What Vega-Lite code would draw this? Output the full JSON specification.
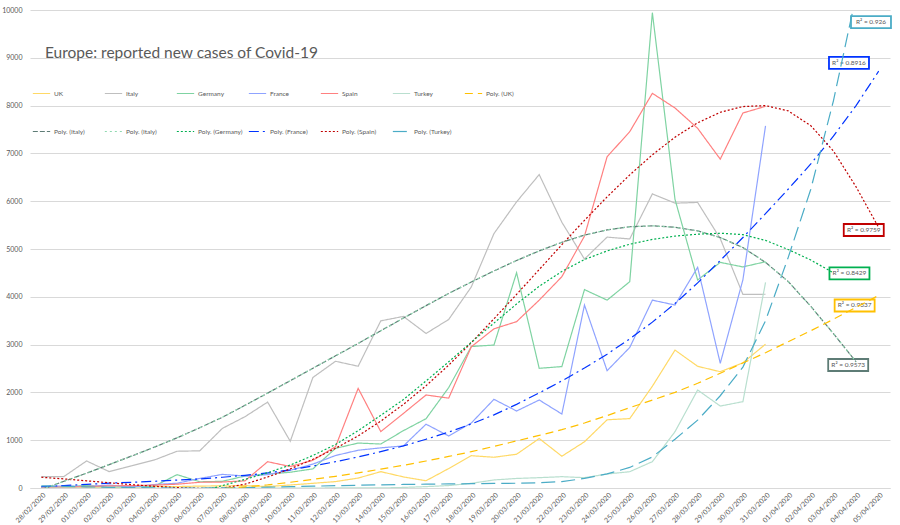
{
 "$schema": "https://vega.github.io/schema/vega-lite/v6.json",
 "width": 860,
 "height": 478,
 "autosize": "none",
 "padding": {"left": 30, "top": 10, "right": 10, "bottom": 37},
 "background": "#ffffff",
 "config": {"font": "Lato", "view": {"stroke": null}},
 "title": {"text": "Europe: reported new cases of Covid-19", "anchor": "start", "frame": "group", "offset": 0, "dx": 15, "dy": 67, "baseline": "alphabetic", "fontSize": 15.5, "fontWeight": "normal", "color": "#595959", "font": "Lato"},
 "data": {"values": [
  {"d":"2020-02-28","UK":2,"Italy":238,"Germany":10,"France":20,"Spain":10,"Turkey":0,"pIt":-30,"pIt2":-30,"pFr":30,"pEs":225,"pTr":45},
  {"d":"2020-02-29","UK":5,"Italy":240,"Germany":20,"France":43,"Spain":20,"Turkey":0,"pIt":140,"pIt2":140,"pFr":50,"pEs":190,"pTr":35},
  {"d":"2020-03-01","UK":12,"Italy":566,"Germany":54,"France":30,"Spain":30,"Turkey":0,"pIt":310,"pIt2":310,"pFr":75,"pEs":150,"pTr":25},
  {"d":"2020-03-02","UK":4,"Italy":342,"Germany":18,"France":61,"Spain":45,"Turkey":0,"pIt":490,"pIt2":490,"pFr":100,"pEs":110,"pTr":15},
  {"d":"2020-03-03","UK":11,"Italy":466,"Germany":28,"France":21,"Spain":50,"Turkey":0,"pIt":670,"pIt2":670,"pFr":120,"pEs":70,"pTr":8},
  {"d":"2020-03-04","UK":34,"Italy":587,"Germany":39,"France":73,"Spain":60,"Turkey":0,"pIt":855,"pIt2":855,"pFr":140,"pEs":35,"pTr":3},
  {"d":"2020-03-05","UK":30,"Italy":769,"Germany":280,"France":100,"Spain":80,"Turkey":0,"pIt":1050,"pIt2":1050,"pFr":165,"pEs":8,"pTr":0},
  {"d":"2020-03-06","UK":40,"Italy":778,"Germany":130,"France":200,"Spain":120,"Turkey":0,"pUK":-60,"pIt":1260,"pIt2":1260,"pDe":-80,"pFr":190,"pEs":-8,"pTr":0},
  {"d":"2020-03-07","UK":45,"Italy":1247,"Germany":140,"France":285,"Spain":125,"Turkey":0,"pUK":-15,"pIt":1480,"pIt2":1480,"pDe":50,"pFr":225,"pEs":-5,"pTr":3},
  {"d":"2020-03-08","UK":50,"Italy":1492,"Germany":250,"France":250,"Spain":150,"Turkey":0,"pUK":25,"pIt":1730,"pIt2":1730,"pDe":180,"pFr":265,"pEs":80,"pTr":10},
  {"d":"2020-03-09","UK":30,"Italy":1797,"Germany":290,"France":280,"Spain":550,"Turkey":0,"pUK":65,"pIt":1985,"pIt2":1985,"pDe":320,"pFr":315,"pEs":230,"pTr":18},
  {"d":"2020-03-10","UK":63,"Italy":977,"Germany":330,"France":370,"Spain":450,"Turkey":0,"pUK":120,"pIt":2245,"pIt2":2245,"pDe":480,"pFr":380,"pEs":400,"pTr":28},
  {"d":"2020-03-11","UK":98,"Italy":2313,"Germany":400,"France":500,"Spain":580,"Turkey":0,"pUK":180,"pIt":2505,"pIt2":2505,"pDe":680,"pFr":460,"pEs":600,"pTr":38},
  {"d":"2020-03-12","UK":134,"Italy":2651,"Germany":830,"France":680,"Spain":865,"Turkey":1,"pUK":245,"pIt":2765,"pIt2":2765,"pDe":910,"pFr":550,"pEs":830,"pTr":48},
  {"d":"2020-03-13","UK":208,"Italy":2547,"Germany":940,"France":790,"Spain":2085,"Turkey":4,"pUK":315,"pIt":3025,"pIt2":3025,"pDe":1200,"pFr":650,"pEs":1090,"pTr":58},
  {"d":"2020-03-14","UK":342,"Italy":3497,"Germany":920,"France":840,"Spain":1180,"Turkey":1,"pUK":395,"pIt":3290,"pIt2":3290,"pDe":1520,"pFr":760,"pEs":1400,"pTr":66},
  {"d":"2020-03-15","UK":232,"Italy":3590,"Germany":1200,"France":880,"Spain":1560,"Turkey":12,"pUK":475,"pIt":3555,"pIt2":3555,"pDe":1850,"pFr":880,"pEs":1750,"pTr":74},
  {"d":"2020-03-16","UK":152,"Italy":3233,"Germany":1450,"France":1335,"Spain":1946,"Turkey":29,"pUK":565,"pIt":3815,"pIt2":3815,"pDe":2240,"pFr":1020,"pEs":2140,"pTr":80},
  {"d":"2020-03-17","UK":407,"Italy":3526,"Germany":2100,"France":1088,"Spain":1880,"Turkey":51,"pUK":660,"pIt":4070,"pIt2":4070,"pDe":2640,"pFr":1170,"pEs":2570,"pTr":85},
  {"d":"2020-03-18","UK":676,"Italy":4207,"Germany":2960,"France":1360,"Spain":2955,"Turkey":98,"pUK":760,"pIt":4310,"pIt2":4310,"pDe":3050,"pFr":1340,"pEs":3040,"pTr":90},
  {"d":"2020-03-19","UK":643,"Italy":5322,"Germany":2990,"France":1855,"Spain":3330,"Turkey":168,"pUK":870,"pIt":4540,"pIt2":4540,"pDe":3450,"pFr":1530,"pEs":3540,"pTr":95},
  {"d":"2020-03-20","UK":706,"Italy":5986,"Germany":4504,"France":1611,"Spain":3480,"Turkey":200,"pUK":985,"pIt":4760,"pIt2":4760,"pDe":3850,"pFr":1750,"pEs":4050,"pTr":100},
  {"d":"2020-03-21","UK":1035,"Italy":6557,"Germany":2504,"France":1841,"Spain":3930,"Turkey":216,"pUK":1100,"pIt":4960,"pIt2":4960,"pDe":4220,"pFr":1990,"pEs":4570,"pTr":110},
  {"d":"2020-03-22","UK":665,"Italy":5560,"Germany":2540,"France":1548,"Spain":4420,"Turkey":237,"pUK":1220,"pIt":5140,"pIt2":5140,"pDe":4530,"pFr":2240,"pEs":5090,"pTr":135},
  {"d":"2020-03-23","UK":967,"Italy":4789,"Germany":4150,"France":3828,"Spain":5270,"Turkey":216,"pUK":1360,"pIt":5290,"pIt2":5290,"pDe":4780,"pFr":2510,"pEs":5600,"pTr":200},
  {"d":"2020-03-24","UK":1427,"Italy":5249,"Germany":3930,"France":2454,"Spain":6930,"Turkey":293,"pUK":1515,"pIt":5400,"pIt2":5400,"pDe":4960,"pFr":2800,"pEs":6090,"pTr":295},
  {"d":"2020-03-25","UK":1452,"Italy":5210,"Germany":4316,"France":2940,"Spain":7454,"Turkey":341,"pUK":1680,"pIt":5465,"pIt2":5465,"pDe":5100,"pFr":3120,"pEs":6550,"pTr":430},
  {"d":"2020-03-26","UK":2129,"Italy":6153,"Germany":9944,"France":3930,"Spain":8257,"Turkey":551,"pUK":1840,"pIt":5485,"pIt2":5485,"pDe":5200,"pFr":3470,"pEs":6970,"pTr":650},
  {"d":"2020-03-27","UK":2885,"Italy":5959,"Germany":6040,"France":3828,"Spain":7950,"Turkey":1178,"pUK":2000,"pIt":5455,"pIt2":5455,"pDe":5270,"pFr":3860,"pEs":7340,"pTr":1020},
  {"d":"2020-03-28","UK":2546,"Italy":5974,"Germany":4351,"France":4617,"Spain":7525,"Turkey":2050,"pUK":2190,"pIt":5380,"pIt2":5380,"pDe":5310,"pFr":4290,"pEs":7640,"pTr":1420},
  {"d":"2020-03-29","UK":2433,"Italy":5217,"Germany":4720,"France":2609,"Spain":6880,"Turkey":1715,"pUK":2400,"pIt":5240,"pIt2":5240,"pDe":5330,"pFr":4760,"pEs":7860,"pTr":1930},
  {"d":"2020-03-30","UK":2619,"Italy":4050,"Germany":4625,"France":4355,"Spain":7845,"Turkey":1806,"pUK":2615,"pIt":5030,"pIt2":5030,"pDe":5300,"pFr":5240,"pEs":7980,"pTr":2530},
  {"d":"2020-03-31","UK":3009,"Italy":4053,"Germany":4734,"France":7575,"Spain":7985,"Turkey":4300,"pUK":2830,"pIt":4720,"pIt2":4720,"pDe":5180,"pFr":5740,"pEs":8000,"pTr":3500},
  {"d":"2020-04-01","pUK":3060,"pIt":4320,"pIt2":4320,"pDe":4990,"pFr":6250,"pEs":7890,"pTr":4820},
  {"d":"2020-04-02","pUK":3290,"pIt":3800,"pIt2":3800,"pDe":4770,"pFr":6780,"pEs":7580,"pTr":6250},
  {"d":"2020-04-03","pUK":3530,"pIt":3230,"pIt2":3230,"pDe":4500,"pFr":7360,"pEs":7050,"pTr":8100},
  {"d":"2020-04-04","pUK":3780,"pIt":2640,"pIt2":2640,"pFr":8000,"pEs":6300,"pTr":10300},
  {"d":"2020-04-05","pUK":4030,"pFr":8720,"pEs":5450}
 ]},
 "encoding": {
  "x": {"field": "d", "type": "temporal",
   "scale": {"type": "utc", "domain": [{"year": 2020, "month": 2, "date": 27, "hours": 12, "utc": true}, {"year": 2020, "month": 4, "date": 5, "hours": 12, "utc": true}]},
   "axis": {"title": null, "labelExpr": "utcFormat(datum.value, '%d/%m/%Y')", "tickCount": {"interval": "day", "step": 1}, "labelAngle": -45, "labelFontSize": 7, "labelColor": "#595959", "labelFont": "Lato", "grid": false, "domainColor": "#D9D9D9", "ticks": false, "labelOverlap": false, "labelFlush": false, "labelBound": false, "labelPadding": 3}},
  "y": {"field": "v", "type": "quantitative",
   "scale": {"domain": [0, 10000], "nice": false},
   "axis": {"title": null, "values": [0,1000,2000,3000,4000,5000,6000,7000,8000,9000,10000], "format": "d", "labelFontSize": 7, "labelColor": "#595959", "labelFont": "Lato", "domain": false, "ticks": false, "grid": true, "gridColor": "#D9D9D9", "gridWidth": 1, "labelPadding": 8}}
 },
 "layer": [
  {
   "transform": [{"fold": ["UK","Italy","Germany","France","Spain","Turkey"], "as": ["s","v"]}, {"filter": "isValid(datum.v)"}],
   "mark": {"type": "line", "clip": true},
   "encoding": {
    "color": {"field": "s", "type": "nominal",
     "scale": {"domain": ["UK","Italy","Germany","France","Spain","Turkey","pUK","pIt","pIt2","pDe","pFr","pEs","pTr"], "range": ["#FFD966","#BFBFBF","#7FD3A2","#8FA3FF","#FF8080","#B9DFCF","#FFC000","#5E7C76","#8FD9B0","#00B050","#0033FF","#C00000","#4BACC6"]},
     "legend": {"title": null, "orient": "none", "legendX": 2, "legendY": 74, "direction": "horizontal", "columns": 7, "gridAlign": "all", "columnPadding": 3, "rowPadding": 25, "symbolType": "stroke", "symbolSize": 300, "labelFontSize": 6.5, "labelColor": "#595959", "labelFont": "Lato", "labelOffset": 3, "padding": 0,
      "symbolStrokeColor": {"expr": "scale('color', datum.value)"},
      "symbolDash": {"expr": "scale('strokeDash', datum.value)"},
      "symbolStrokeWidth": {"expr": "scale('strokeWidth', datum.value)"},
      "labelExpr": "datum.label=='pUK'?'Poly. (UK)':(datum.label=='pIt'||datum.label=='pIt2')?'Poly. (Italy)':datum.label=='pDe'?'Poly. (Germany)':datum.label=='pFr'?'Poly. (France)':datum.label=='pEs'?'Poly. (Spain)':datum.label=='pTr'?'Poly. (Turkey)':datum.label"}},
    "strokeDash": {"field": "s", "type": "nominal", "legend": null,
     "scale": {"domain": ["UK","Italy","Germany","France","Spain","Turkey","pUK","pIt","pIt2","pDe","pFr","pEs","pTr"], "range": [[1,0],[1,0],[1,0],[1,0],[1,0],[1,0],[8,5],[5,2],[2,3],[2,2],[10,4,2,4],[2,2],[14,6]]}},
    "strokeWidth": {"field": "s", "type": "nominal", "legend": null,
     "scale": {"domain": ["UK","Italy","Germany","France","Spain","Turkey","pUK","pIt","pIt2","pDe","pFr","pEs","pTr"], "range": [1.2,1.2,1.2,1.2,1.2,1.2,2.5,2.5,1.2,2.5,2.5,2.5,2.5]}}
   }
  },
  {
   "data": {"values": [
    {"d": "2020-04-04T15:50:00Z", "v": 9745, "k": "pTr", "t": "R² = 0.926"},
    {"d": "2020-04-03T16:30:00Z", "v": 8895, "k": "pFr", "t": "R² = 0.8916"},
    {"d": "2020-04-04T08:10:00Z", "v": 5397, "k": "pEs", "t": "R² = 0.9759"},
    {"d": "2020-04-03T17:00:00Z", "v": 4492, "k": "pDe", "t": "R² = 0.8429"},
    {"d": "2020-04-03T22:30:00Z", "v": 3818, "k": "pUK", "t": "R² = 0.9337"},
    {"d": "2020-04-03T15:40:00Z", "v": 2573, "k": "pIt", "t": "R² = 0.9573"}
   ]},
   "layer": [
    {"transform": [{"filter": "datum.k == 'pTr'"}], "mark": {"type": "point", "shape": "M-1,-0.3H1V0.3H-1Z", "size": 1600, "filled": true, "fill": "#ffffff", "opacity": 1, "stroke": "#4BACC6", "strokeWidth": 1.8}},
    {"transform": [{"filter": "datum.k == 'pFr'"}], "mark": {"type": "point", "shape": "M-1,-0.3H1V0.3H-1Z", "size": 1600, "filled": true, "fill": "#ffffff", "opacity": 1, "stroke": "#0033FF", "strokeWidth": 1.8}},
    {"transform": [{"filter": "datum.k == 'pEs'"}], "mark": {"type": "point", "shape": "M-1,-0.3H1V0.3H-1Z", "size": 1600, "filled": true, "fill": "#ffffff", "opacity": 1, "stroke": "#C00000", "strokeWidth": 1.8}},
    {"transform": [{"filter": "datum.k == 'pDe'"}], "mark": {"type": "point", "shape": "M-1,-0.3H1V0.3H-1Z", "size": 1600, "filled": true, "fill": "#ffffff", "opacity": 1, "stroke": "#00B050", "strokeWidth": 1.8}},
    {"transform": [{"filter": "datum.k == 'pUK'"}], "mark": {"type": "point", "shape": "M-1,-0.3H1V0.3H-1Z", "size": 1600, "filled": true, "fill": "#ffffff", "opacity": 1, "stroke": "#FFC000", "strokeWidth": 1.8}},
    {"transform": [{"filter": "datum.k == 'pIt'"}], "mark": {"type": "point", "shape": "M-1,-0.3H1V0.3H-1Z", "size": 1600, "filled": true, "fill": "#ffffff", "opacity": 1, "stroke": "#5E7C76", "strokeWidth": 1.8}},
    {"mark": {"type": "text", "fontSize": 6.5, "font": "Lato", "color": "#595959", "align": "center", "baseline": "middle"},
     "encoding": {"text": {"field": "t"}}}
   ]
  },
  {
   "transform": [{"fold": ["pUK","pIt","pDe","pFr","pEs","pTr","pIt2"], "as": ["s","v"]}, {"filter": "isValid(datum.v)"}],
   "mark": {"type": "line", "clip": true},
   "encoding": {
    "color": {"field": "s", "type": "nominal",
     "scale": {"domain": ["UK","Italy","Germany","France","Spain","Turkey","pUK","pIt","pIt2","pDe","pFr","pEs","pTr"], "range": ["#FFD966","#BFBFBF","#7FD3A2","#8FA3FF","#FF8080","#B9DFCF","#FFC000","#5E7C76","#8FD9B0","#00B050","#0033FF","#C00000","#4BACC6"]}},
    "strokeDash": {"field": "s", "type": "nominal", "legend": null,
     "scale": {"domain": ["UK","Italy","Germany","France","Spain","Turkey","pUK","pIt","pIt2","pDe","pFr","pEs","pTr"], "range": [[1,0],[1,0],[1,0],[1,0],[1,0],[1,0],[8,5],[5,2],[2,3],[2,2],[10,4,2,4],[2,2],[14,6]]}},
    "strokeWidth": {"field": "s", "type": "nominal", "legend": null,
     "scale": {"domain": ["UK","Italy","Germany","France","Spain","Turkey","pUK","pIt","pIt2","pDe","pFr","pEs","pTr"], "range": [1.2,1.2,1.2,1.2,1.2,1.2,2.5,2.5,1.2,2.5,2.5,2.5,2.5]}}
   }
  }
 ]
}
